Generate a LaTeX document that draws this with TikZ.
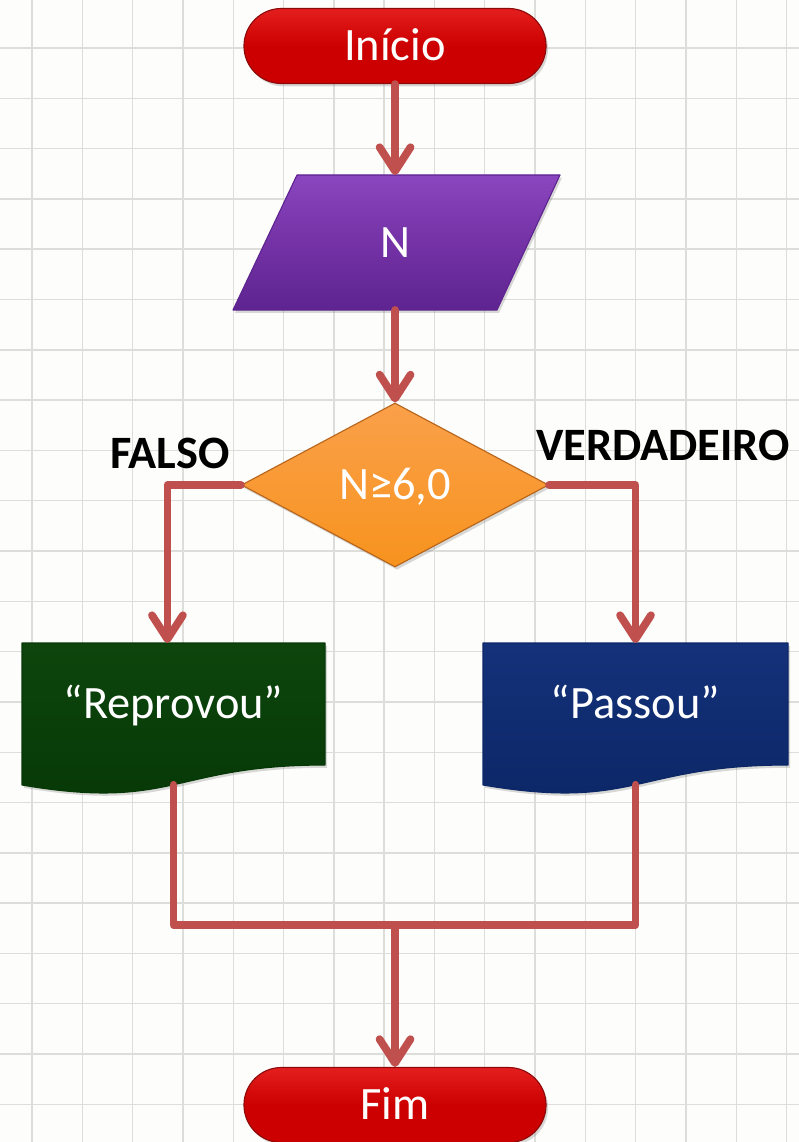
\documentclass[tikz,border=0pt]{standalone}
\usepackage{fontspec}
\setmainfont{Carlito}
\usetikzlibrary{arrows.meta,shapes.geometric,shadows}

\definecolor{fundo}{HTML}{FDFDFB}
\definecolor{cinzagrade}{HTML}{DDDDD9}
\definecolor{linha}{HTML}{C0504D}
\definecolor{vermclaro}{HTML}{E41E1E}
\definecolor{vermelho}{HTML}{CC0000}
\definecolor{vermescuro}{HTML}{8E0A0A}
\definecolor{roxoclaro}{HTML}{8A46BE}
\definecolor{roxo}{HTML}{7432A6}
\definecolor{roxoescuro}{HTML}{5E2490}
\definecolor{laranjaclaro}{HTML}{FAA04A}
\definecolor{laranja}{HTML}{F7931E}
\definecolor{laranjaescuro}{HTML}{B8651C}
\definecolor{verdeclaro}{HTML}{0D450D}
\definecolor{verdedoc}{HTML}{063806}
\definecolor{azulclaro}{HTML}{14317A}
\definecolor{azuldoc}{HTML}{0C2766}

\tikzset{
  grade/.style={cinzagrade, line width=1pt},
  texto/.style={text=white, font=\fontsize{33}{40}\selectfont, text height=21pt, text depth=0pt},
  rotulo/.style={text=black, font=\fontsize{33}{40}\selectfont\bfseries, text height=21pt, text depth=0pt},
  sombra/.style={drop shadow={opacity=0.3, shadow xshift=0.5mm, shadow yshift=-0.7mm}},
  terminal/.style={texto, rectangle, rounded corners=0.9375cm, minimum width=7.55cm,
    minimum height=1.875cm, inner sep=0pt, top color=vermclaro, bottom color=vermelho,
    middle color=vermelho, draw=vermescuro, line width=0.8pt, sombra},
  decisao/.style={texto, diamond, minimum width=7.675cm, minimum height=4.1cm, inner sep=0pt,
    top color=laranjaclaro, bottom color=laranja, draw=laranjaescuro, line width=0.8pt, sombra},
  ligacao/.style={linha, line width=5.5pt},
}

\begin{document}
\begin{tikzpicture}[x=0.025cm, y=-0.025cm, line join=round, line cap=round,
    >={Straight Barb[length=17pt,width=22pt,round]}]
\useasboundingbox (0,0) rectangle (799,1142);
\fill[fundo] (0,0) rectangle (799,1142);
% grade do fundo
\foreach \k in {0,...,15}
  \draw[grade] ({32+50.3*\k},0) -- ({32+50.3*\k},1142);
\foreach \k in {0,...,21}
  \draw[grade] (0,{48+50.3*\k}) -- (799,{48+50.3*\k});

% entrada (paralelogramo)
\path[top color=roxoclaro, bottom color=roxoescuro, middle color=roxo, draw=roxoescuro,
    line width=0.8pt, sombra]
  (297,175) -- coordinate[pos=.373] (entradatopo) (560,175) -- (497,310)
  -- coordinate[pos=.386] (entradabase) (233,310) -- cycle;
% saidas (documento)
\path[top color=verdeclaro, bottom color=verdedoc, draw=verdedoc, line width=0.8pt, sombra]
  (22,643) -- coordinate[pos=.48] (reptopo) (325,643) -- (325,765)
  .. controls (173.5,765) and (173.5,811) .. coordinate[pos=.5] (repbase) (22,785) -- cycle;
\path[top color=azulclaro, bottom color=azuldoc, draw=azuldoc, line width=0.8pt, sombra]
  (483,643) -- coordinate[pos=.5] (pastopo) (788,643) -- (788,765)
  .. controls (635.5,765) and (635.5,811) .. coordinate[pos=.5] (pasbase) (483,785) -- cycle;

\node[terminal] (inicio) at (395,46) {Início};
\node[texto] (entrada) at (395,243) {N};
\node[decisao] (teste) at (395,485) {N≥6,0};
\node[texto] (reprovou) at (173.5,704) {“Reprovou”};
\node[texto] (passou) at (635.5,704) {“Passou”};
\node[terminal] (fim) at (395,1105) {Fim};
\node[rotulo] (falso) at (170,454) {FALSO};
\node[rotulo] (verdadeiro) at (663,446) {VERDADEIRO};
\coordinate (juncao) at (395,925);

\draw[ligacao,->] (inicio) -- (entradatopo);
\draw[ligacao,->] (entradabase) -- (teste);
\draw[ligacao,->] (teste.west) -| (reptopo);
\draw[ligacao,->] (teste.east) -| (pastopo);
\draw[ligacao] (repbase) |- (juncao) -| (pasbase);
\draw[ligacao,->] (juncao) -- (fim);
\end{tikzpicture}
\end{document}
